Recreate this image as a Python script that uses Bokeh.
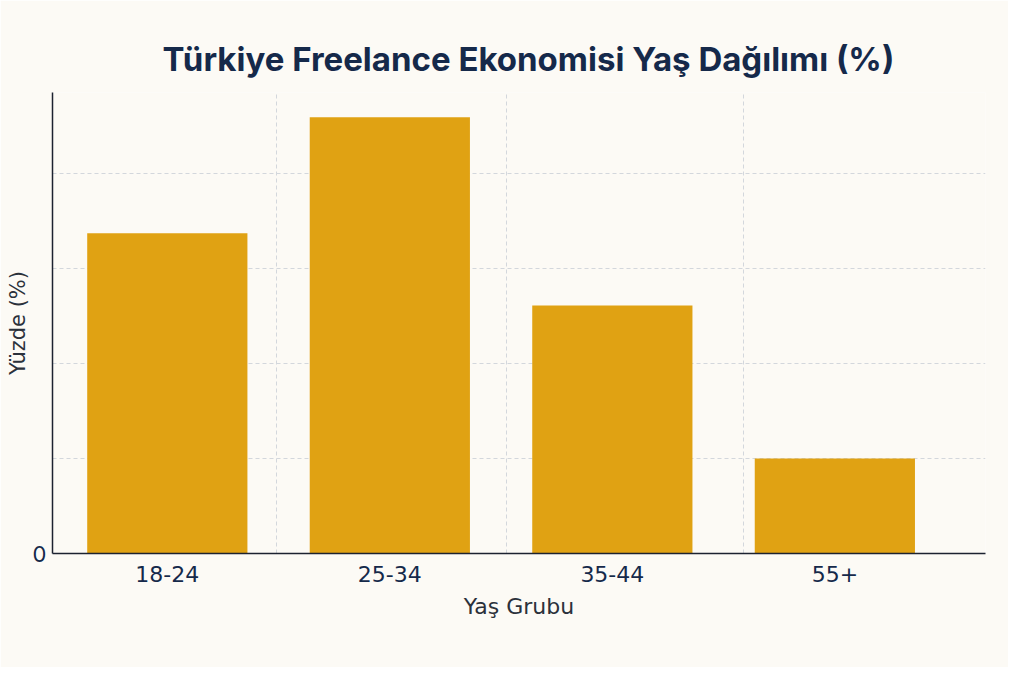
from bokeh.plotting import figure
from bokeh.models import ColumnDataSource, FixedTicker, Range1d
from bokeh.embed import file_html
from bokeh.resources import INLINE

categories = ["18-24", "25-34", "35-44", "55+"]
values = [33.7, 45.9, 26.1, 10.0]
y_ticks = [0, 10, 20, 30, 40]

positions = list(range(len(categories)))
source = ColumnDataSource(dict(x=positions, top=values, cat=categories))

BG = "#fcfaf5"
NAVY = "#15294a"

p = figure(width=1008, height=667, output_backend="svg", toolbar_location=None,
           x_range=Range1d(-0.516, 3.677), y_range=Range1d(0, 48.5),
           min_border_left=52, min_border_right=23, min_border_top=92, min_border_bottom=114)
p.background_fill_color = BG
p.border_fill_color = BG
p.outline_line_color = None

p.vbar(x="x", top="top", bottom=0, width=0.72, source=source,
       fill_color="#e0a213", line_color=None)

p.title.text = "Türkiye Freelance Ekonomisi Yaş Dağılımı (%)"
p.title.align = "left"
p.title.text_font = "Inter"
p.title.text_font_style = "bold"
p.title.text_font_size = "33px"
p.title.text_color = NAVY
p.title.standoff = 28
p.title.offset = 110

# x axis
p.xaxis.ticker = FixedTicker(ticks=positions)
p.xaxis.major_label_overrides = {i: c for i, c in zip(positions, categories)}
p.xaxis.major_tick_line_color = None
p.xaxis.minor_tick_line_color = None
p.xaxis.major_label_text_font = "DejaVu Sans"
p.xaxis.major_label_text_font_size = "22px"
p.xaxis.major_label_text_color = NAVY
p.xaxis.major_label_standoff = 6
p.xaxis.axis_label = "Yaş Grubu"
p.xaxis.axis_label_text_font = "DejaVu Sans"
p.xaxis.axis_label_text_font_size = "22px"
p.xaxis.axis_label_text_font_style = "normal"
p.xaxis.axis_label_text_color = "#2b313b"
p.xaxis.axis_label_standoff = 9
p.xaxis.axis_line_color = "#1c2230"
p.xaxis.axis_line_width = 1.5

# y axis
p.yaxis.ticker = FixedTicker(ticks=y_ticks)
p.yaxis.major_label_overrides = {t: ("0" if t == 0 else "") for t in y_ticks}
p.yaxis.major_tick_line_color = None
p.yaxis.minor_tick_line_color = None
p.yaxis.major_label_text_font = "Inter"
p.yaxis.major_label_text_font_size = "22px"
p.yaxis.major_label_text_color = NAVY
p.yaxis.major_label_standoff = 0
p.yaxis.axis_label = "Yüzde (%)"
p.yaxis.axis_label_text_font = "DejaVu Sans"
p.yaxis.axis_label_text_font_size = "21px"
p.yaxis.axis_label_text_font_style = "normal"
p.yaxis.axis_label_text_color = "#2b313b"
p.yaxis.axis_label_standoff = 0
p.yaxis.axis_line_color = "#1c2230"
p.yaxis.axis_line_width = 1.5

# grids
p.xgrid.ticker = FixedTicker(ticks=[0.49, 1.525, 2.59])
for g in (p.xgrid, p.ygrid):
    g.grid_line_color = "#d3d7dc"
    g.grid_line_dash = "4 3"
    g.grid_line_width = 1

open("out.html", "w").write(file_html(p, INLINE))
